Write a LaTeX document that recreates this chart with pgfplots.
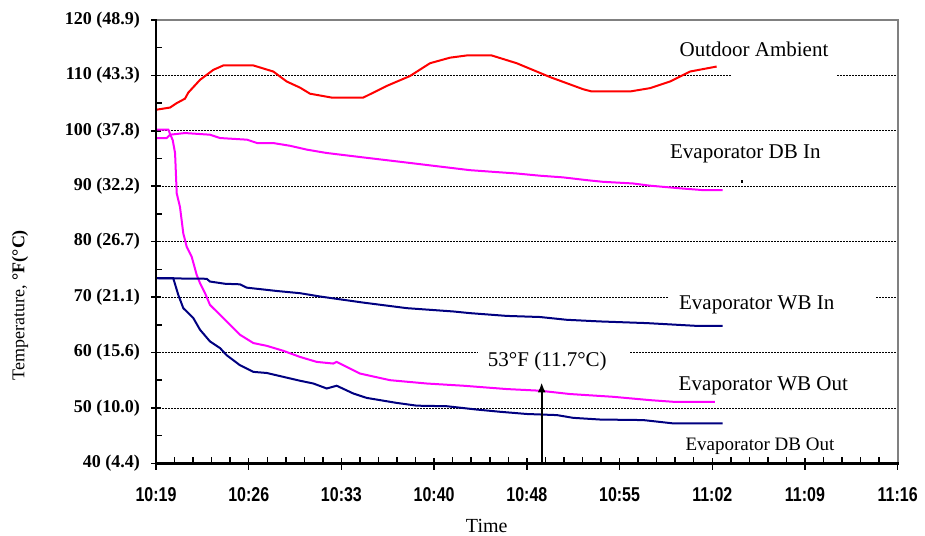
\documentclass[border=0pt]{standalone}
\usepackage{fontspec}
\setmainfont{Liberation Serif}
\newfontfamily\arialfont{Liberation Sans}
\usepackage{graphicx}
\usepackage{pgfplots}
\pgfplotsset{compat=1.18}
\usetikzlibrary{arrows.meta}
\definecolor{navyline}{RGB}{0,0,128}
\definecolor{magline}{RGB}{255,0,255}
\definecolor{redline}{RGB}{255,0,0}
\definecolor{framegray}{RGB}{128,128,128}
\newcommand{\xt}[1]{\scalebox{0.8}[1]{#1}}
\begin{document}
\begin{tikzpicture}
\begin{axis}[
  name=ax,
  at={(0pt,0pt)}, anchor=south west,
  scale only axis,
  width=741.7pt, height=443.3pt,
  xmin=0, xmax=57.6, ymin=40, ymax=120,
  clip=false,
  axis x line*=bottom, axis y line*=left,
  axis line style={line width=2pt, black},
  xtick={0,7.2,14.4,21.6,28.8,36,43.2,50.4,57.6},
  xticklabels={\xt{10:19},\xt{10:26},\xt{10:33},\xt{10:40},\xt{10:48},\xt{10:55},\xt{11:02},\xt{11:09},\xt{11:16}},
  ytick={40,50,60,70,80,90,100,110,120},
  yticklabels={40 (4.4),50 (10.0),60 (15.6),70 (21.1),80 (26.7),90 (32.2),100 (37.8),110 (43.3),120 (48.9)},
  minor x tick num=4,
  minor y tick num=1,
  tick align=inside,
  major tick length=5pt,
  minor tick length=6pt,
  tick style={black, line width=1.5pt},
  xticklabel style={font=\arialfont\bfseries\fontsize{20}{22}\selectfont, anchor=center, inner sep=0pt, yshift=-31pt},
  yticklabel style={font=\bfseries\fontsize{18}{20}\selectfont, anchor=east, inner sep=0pt, xshift=-16pt},
  ymajorgrids,
  major grid style={black, line width=0.7pt, dash pattern=on 2pt off 1pt},
  every axis plot/.append style={line width=2pt},
]
\fill[white] (axis cs:44.7,109.2) rectangle (axis cs:52.8,110.8);
\fill[white] (axis cs:39.8,69.2) rectangle (axis cs:55.9,70.8);
\fill[white] (axis cs:25.0,59.2) rectangle (axis cs:36.8,60.8);

\addplot[redline] coordinates {
(0,103.8)(1.09,104.2)(1.61,105.0)(2.25,105.8)(2.51,106.9)(3.42,109.2)(4.45,111.0)(5.23,111.8)(7.56,111.8)(9.11,110.7)(10.15,108.9)(11.18,107.8)(11.96,106.7)(13.64,106.0)(16.10,106.0)(17.92,108.1)(19.73,109.9)(21.28,112.2)(22.83,113.2)(24.13,113.6)(26.07,113.6)(28.01,112.2)(30.6,109.7)(33.18,107.5)(33.84,107.1)(36.81,107.1)(38.36,107.7)(39.92,108.9)(41.47,110.7)(43.54,111.6)
};
\addplot[magline] coordinates {
(0,98.7)(0.83,98.7)(1.09,99.3)(2.25,99.6)(2.90,99.5)(4.19,99.3)(4.97,98.7)(7.07,98.4)(7.84,97.8)(9.09,97.8)(10.41,97.3)(11.73,96.6)(12.74,96.2)(13.26,96.0)(16.10,95.2)(17.92,94.7)(19.73,94.2)(21.51,93.7)(24.38,92.9)(26.17,92.6)(28.01,92.3)(29.82,91.9)(31.61,91.6)(33.45,91.1)(34.71,90.8)(37.04,90.5)(38.36,90.1)(40.82,89.6)(42.48,89.3)(44.01,89.3)
};
\addplot[magline] coordinates {
(0,100.2)(0.96,100.2)(1.30,98.3)(1.48,96.0)(1.61,88.7)(1.86,86.3)(2.12,81.5)(2.38,79.1)(2.77,77.3)(3.16,74.0)(3.42,72.5)(3.81,70.7)(4.19,68.6)(4.97,66.8)(5.75,65.0)(6.52,63.2)(7.56,61.7)(8.60,61.2)(9.89,60.3)(11.18,59.2)(12.48,58.3)(13.77,58.0)(14.03,58.3)(15.84,56.2)(18.17,55.0)(21.02,54.4)(23.86,54.0)(27.23,53.4)(29.82,53.1)(32.15,52.5)(35.51,52.0)(38.36,51.4)(40.17,51.1)(43.41,51.1)
};
\addplot[navyline] coordinates {
(0,73.4)(3.94,73.3)(4.19,72.8)(5.36,72.4)(6.52,72.3)(7.04,71.7)(8.60,71.3)(9.37,71.1)(11.18,70.7)(12.48,70.2)(12.74,70.1)(16.10,69.0)(19.47,68.0)(23.09,67.4)(24.38,67.1)(27.23,66.6)(29.82,66.4)(31.89,65.9)(34.48,65.6)(38.11,65.3)(41.99,64.8)(44.01,64.8)
};
\addplot[navyline] coordinates {
(0,73.4)(1.34,73.4)(1.73,70.4)(2.12,68.0)(2.90,66.2)(3.42,64.1)(4.19,62.0)(4.97,60.8)(5.49,59.5)(6.52,57.7)(7.56,56.5)(8.60,56.3)(9.89,55.6)(11.18,54.9)(12.22,54.4)(13.26,53.5)(14.03,54.0)(15.32,52.6)(16.36,51.8)(18.69,50.9)(20.25,50.4)(22.58,50.3)(24.91,49.7)(26.71,49.3)(28.79,48.9)(31.12,48.7)(32.41,48.2)(34.48,47.9)(37.84,47.8)(40.17,47.2)(44.01,47.2)
};

\draw[-{Latex[length=10pt,width=8pt]}, line width=2pt, black] (axis cs:29.95,40) -- (axis cs:29.95,54.6);
\fill[black] (axis cs:45.45,90.6) rectangle (axis cs:45.55,91.1);

\node[font=\fontsize{21}{25}\selectfont] at (axis cs:46.44,114.7) {Outdoor Ambient};
\node[font=\fontsize{21}{25}\selectfont] at (axis cs:45.77,95.8) {Evaporator DB In};
\node[font=\fontsize{21}{25}\selectfont] at (axis cs:46.65,68.6) {Evaporator WB In};
\node[font=\fontsize{21}{25}\selectfont] at (axis cs:47.16,54.0) {Evaporator WB Out};
\node[font=\fontsize{19}{22}\selectfont] at (axis cs:46.9,43.1) {Evaporator DB Out};
\node[font=\fontsize{21}{25}\selectfont] at (axis cs:30.39,58.3) {53°F (11.7°C)};

\node[rotate=90, font=\fontsize{18}{21}\selectfont] at (axis description cs:-0.1834,0.357) {Temperature, \textbf{°F(°C)}};
\node[font=\fontsize{20}{23}\selectfont, inner sep=0pt] at (axis description cs:0.4459,-0.141) {Time};
\end{axis}
% frame
\fill[framegray] (0pt,442.1pt) rectangle (742.9pt,444.5pt);
\fill[framegray] (740.5pt,0pt) rectangle (742.9pt,444.5pt);
\fill[black] (-1.2pt,-1.2pt) rectangle (1.2pt,444.5pt);
\fill[black] (-1.2pt,-1.2pt) rectangle (742.9pt,1.2pt);
% outward parts of major x ticks
\fill[black] (-0.75pt,-7pt) rectangle (0.75pt,0pt);
\fill[black] (91.96pt,-7pt) rectangle (93.46pt,0pt);
\fill[black] (184.68pt,-7pt) rectangle (186.18pt,0pt);
\fill[black] (277.39pt,-7pt) rectangle (278.89pt,0pt);
\fill[black] (370.10pt,-7pt) rectangle (371.60pt,0pt);
\fill[black] (462.81pt,-7pt) rectangle (464.31pt,0pt);
\fill[black] (555.53pt,-7pt) rectangle (557.03pt,0pt);
\fill[black] (648.24pt,-7pt) rectangle (649.74pt,0pt);
\fill[black] (740.95pt,-7pt) rectangle (742.45pt,0pt);
% outward parts of major y ticks
\fill[black] (-5pt,-0.75pt) rectangle (0pt,0.75pt);
\fill[black] (-5pt,54.66pt) rectangle (0pt,56.16pt);
\fill[black] (-5pt,110.08pt) rectangle (0pt,111.58pt);
\fill[black] (-5pt,165.49pt) rectangle (0pt,166.99pt);
\fill[black] (-5pt,220.90pt) rectangle (0pt,222.40pt);
\fill[black] (-5pt,276.31pt) rectangle (0pt,277.81pt);
\fill[black] (-5pt,331.73pt) rectangle (0pt,333.23pt);
\fill[black] (-5pt,387.14pt) rectangle (0pt,388.64pt);
\fill[black] (-5pt,442.55pt) rectangle (0pt,444.05pt);
\pgfresetboundingbox
\useasboundingbox (-156pt,-71.7pt) rectangle (769pt,463.3pt);
\end{tikzpicture}
\end{document}
